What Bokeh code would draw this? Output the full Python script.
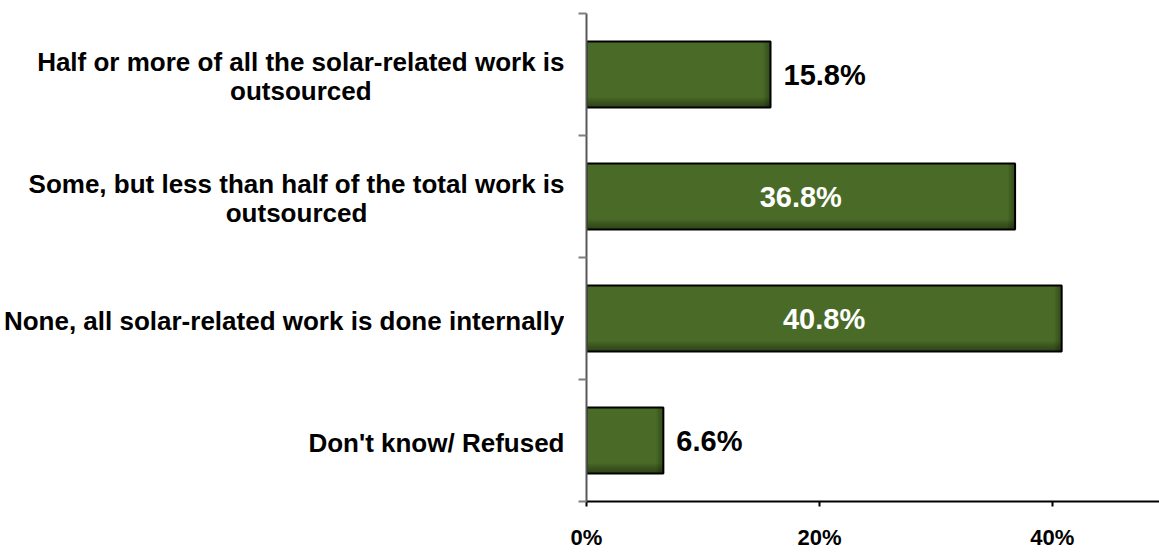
from bokeh.plotting import figure
from bokeh.layouts import row
from bokeh.models import Range1d, FixedTicker, ColumnDataSource
from bokeh.core.properties import value
from bokeh.embed import file_html
from bokeh.resources import INLINE

categories = [
    "Half or more of all the solar-related work is\noutsourced",
    "Some, but less than half of the total work is\noutsourced",
    "None, all solar-related work is done internally",
    "Don't know/ Refused",
]
values = [15.8, 36.8, 40.8, 6.6]
x_ticks = [0, 20, 40]
x_tick_labels = ["0%", "20%", "40%"]

n = len(categories)
ypos = [n - i - 0.5 for i in range(n)]
FONT = "Liberation Sans"
BAR_H = 0.54

# left panel holding the category labels
lab = figure(width=564, height=552, output_backend="svg", toolbar_location=None,
             x_range=Range1d(0, 1), y_range=Range1d(0, n),
             x_axis_location=None, y_axis_location=None,
             min_border_left=0, min_border_right=0, min_border_top=13, min_border_bottom=49)
lab.grid.grid_line_color = None
lab.outline_line_color = None
lab_src = ColumnDataSource(dict(x=[1] * n, y=ypos, t=categories))
lab.text(x="x", y="y", text="t", source=lab_src, anchor=value("center_right"),
         text_align="center", text_baseline="middle", text_color="black",
         text_font=value(FONT), text_font_style="bold", text_font_size="26px",
         text_line_height=0.98, y_offset=2)

p = figure(width=595, height=552, output_backend="svg", toolbar_location=None,
           x_range=Range1d(0, 49.2), y_range=Range1d(0, n),
           min_border_left=22, min_border_right=0, min_border_top=13, min_border_bottom=49)
p.grid.grid_line_color = None
p.outline_line_color = None
p.background_fill_color = "white"

src = ColumnDataSource(dict(y=ypos, v=values))
p.hbar(y="y", right="v", left=0, height=BAR_H, source=src,
       fill_color="#4a6b27", line_color=None)

# soft shading toward the bottom and right edges of each bar
for k in range(1, 6):
    t = 0.016 * k
    sh = ColumnDataSource(dict(y=[y - BAR_H / 2 + t / 2 for y in ypos], v=values))
    p.hbar(y="y", right="v", left=0, height=t, source=sh,
           fill_color="black", fill_alpha=0.08, line_color=None)
    w = 0.12 * k
    sr = ColumnDataSource(dict(y=ypos, v=values, l=[v - w for v in values]))
    p.hbar(y="y", right="v", left="l", height=BAR_H, source=sr,
           fill_color="black", fill_alpha=0.06, line_color=None)

p.hbar(y="y", right="v", left=0, height=BAR_H, source=src,
       fill_color=None, line_color="black", line_width=2)

inside = ColumnDataSource(dict(
    x=[v / 2 for v in values if v >= 20], y=[y for y, v in zip(ypos, values) if v >= 20],
    t=[f"{v:.1f}%" for v in values if v >= 20]))
outside = ColumnDataSource(dict(
    x=[v for v in values if v < 20], y=[y for y, v in zip(ypos, values) if v < 20],
    t=[f"{v:.1f}%" for v in values if v < 20]))
p.text(x="x", y="y", text="t", source=inside, text_color="white", text_align="center",
       text_baseline="middle", text_font=value(FONT), text_font_style="bold", text_font_size="29px")
p.text(x="x", y="y", text="t", source=outside, text_color="black", text_align="left",
       text_baseline="middle", x_offset=13, text_font=value(FONT), text_font_style="bold",
       text_font_size="29px")

# y axis
ya = p.yaxis[0]
ya.ticker = FixedTicker(ticks=ypos, minor_ticks=list(range(n + 1)))
ya.major_label_overrides = {y: "" for y in ypos}
ya.major_label_standoff = 0
ya.major_tick_out = 0
ya.major_tick_in = 0
ya.minor_tick_out = 8
ya.minor_tick_in = 0
ya.minor_tick_line_color = "#7f7f7f"
ya.minor_tick_line_width = 2
ya.axis_line_color = "#595959"
ya.axis_line_width = 2

# x axis
xa = p.xaxis[0]
xa.ticker = FixedTicker(ticks=x_ticks, minor_ticks=[])
xa.major_label_overrides = {t: l for t, l in zip(x_ticks, x_tick_labels)}
xa.major_tick_out = 5
xa.major_tick_in = 0
xa.major_tick_line_width = 2
xa.axis_line_color = "black"
xa.axis_line_width = 2
xa.major_label_standoff = 18
xa.major_label_text_font = FONT
xa.major_label_text_font_style = "bold"
xa.major_label_text_font_size = "22px"
xa.major_label_text_color = "black"

layout = row(lab, p, spacing=0)
open("out.html", "w").write(file_html(layout, INLINE))
